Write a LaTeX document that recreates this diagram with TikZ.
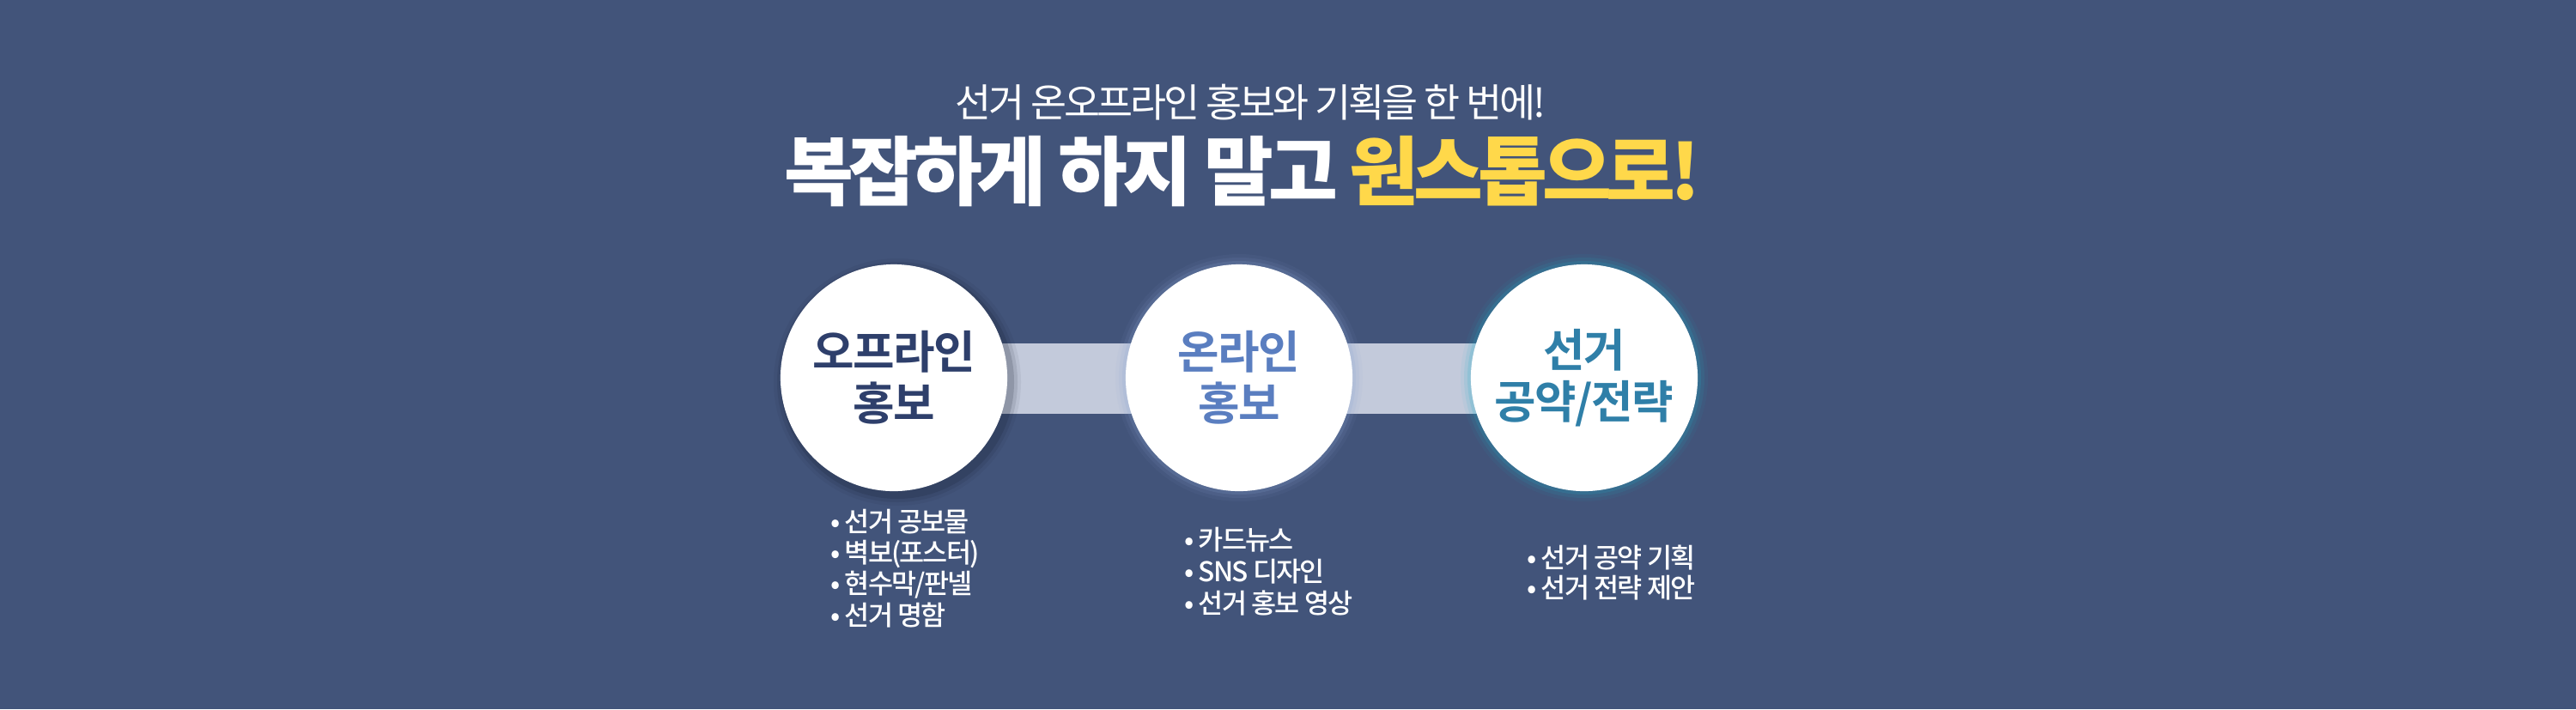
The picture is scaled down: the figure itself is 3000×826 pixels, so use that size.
\documentclass[tikz,border=0pt]{standalone}
\usepackage{fontspec}
\setmainfont{Noto Sans CJK KR}[BoldFont={Noto Sans CJK KR Black}]
\newfontfamily\kbold{Noto Sans CJK KR Bold}[LetterSpace=-3]
\newfontfamily\kmed{Noto Sans CJK KR Medium}[LetterSpace=-6]
\newfontfamily\kreg{Noto Sans CJK KR}[LetterSpace=-7]
\newfontfamily\kblk{Noto Sans CJK KR Black}[LetterSpace=-7]
\definecolor{bg}{HTML}{42547A}
\definecolor{barc}{HTML}{C3CADB}
\definecolor{navy}{HTML}{2E3F6B}
\definecolor{bluet}{HTML}{5A7EC0}
\definecolor{teal}{HTML}{2F7FA8}
\definecolor{yel}{HTML}{FFD84A}
\tikzset{
  circ/.style={circle,fill=white,minimum size=2.64cm,inner sep=0pt,align=center,font=\kbold\fontsize{15}{19}\selectfont},
  item/.style={anchor=west,text=white,font=\kmed\fontsize{9}{11}\selectfont},
}
\begin{document}
\begin{tikzpicture}[x=0.01cm,y=-0.01cm]
\fill[bg] (0,0) rectangle (3000,826);
\useasboundingbox (0,0) rectangle (3000,826);
\fill[barc] (1041,400) rectangle (1845,482);
% glows
\foreach \r/\o in {144/0.06,140/0.1,136/0.16}{
  \fill[black!60!navy,opacity=\o] (1045,445) circle (\r);
  \fill[bluet!70!white,opacity=\o] (1443,440) circle (\r);
  \fill[teal!60!cyan,opacity=\o] (1845,440) circle (\r);
}
\node[circ,text=navy] (c1) at (1041,440) {오프라인\\[-2pt]홍보};
\node[circ,text=bluet] (c2) at (1443,440) {온라인\\[-2pt]홍보};
\node[circ,text=teal] (c3) at (1845,440) {선거\\[-2pt]공약/전략};
\node[text=white,font=\kreg\fontsize{13}{15}\selectfont] (t1) at (1456,119) {선거 온오프라인 홍보와 기획을 한 번에!};
\node[font=\kblk\fontsize{25}{30}\selectfont] (t2) at (1447,200) {\textcolor{white}{복잡하게 하지 말고} \textcolor{yel}{원스톱으로!}};
\node[item] (a1) at (955,608) {• 선거 공보물};
\node[item] (a2) at (955,645) {• 벽보(포스터)};
\node[item] (a3) at (955,681) {• 현수막/판넬};
\node[item] (a4) at (955,717) {• 선거 명함};
\node[item] (b1) at (1367,629) {• 카드뉴스};
\node[item] (b2) at (1367,666) {• SNS 디자인};
\node[item] (b3) at (1367,702) {• 선거 홍보 영상};
\node[item] (d1) at (1766,650) {• 선거 공약 기획};
\node[item] (d2) at (1766,685) {• 선거 전략 제안};
\end{tikzpicture}
\end{document}
